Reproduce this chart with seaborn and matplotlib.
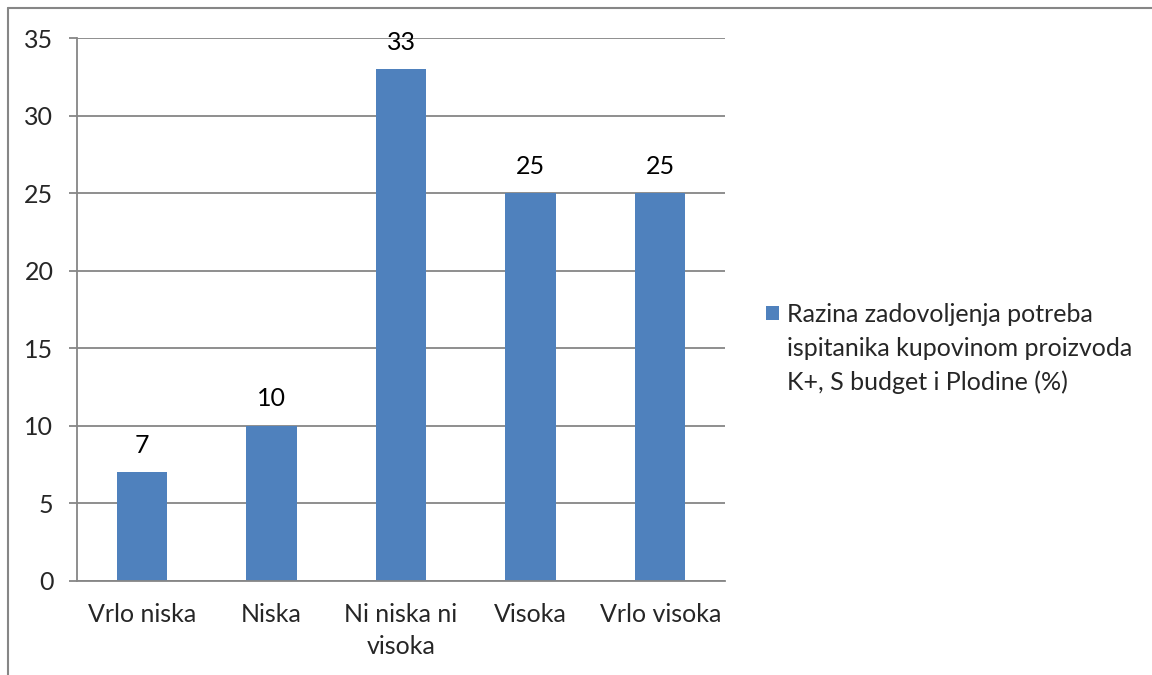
import matplotlib
matplotlib.use("Agg")
import matplotlib.pyplot as plt
import seaborn as sns
import numpy as np
from matplotlib.lines import Line2D
from matplotlib.patches import Patch

categories = ["Vrlo niska", "Niska", "Ni niska ni\nvisoka", "Visoka", "Vrlo visoka"]
values = [7, 10, 33, 25, 25]
series_label = ["Razina zadovoljenja potreba",
                "ispitanika kupovinom proizvoda",
                "K+, S budget i Plodine (%)"]

bar_color = "#4F81BD"
grid_color = "#868686"

sns.set_theme(style="white")
plt.rcParams['font.family'] = ['Lato', 'DejaVu Sans']

fig = plt.figure(figsize=(11.52, 6.75), dpi=100)
ax = fig.add_axes([77 / 1152, 1 - 581 / 675, 648 / 1152, 543 / 675])

sns.barplot(x=categories, y=values, color=bar_color, width=0.39,
            saturation=1, linewidth=0, ax=ax)

ax.set_ylim(0, 35)
ax.set_xlim(-0.5, len(categories) - 0.5)
ax.set_yticks(np.arange(0, 36, 5))
ax.yaxis.grid(True, color=grid_color, linewidth=1.3)
ax.set_axisbelow(True)

for s in ["top", "right"]:
    ax.spines[s].set_visible(False)
for s in ["left", "bottom"]:
    ax.spines[s].set_color(grid_color)
    ax.spines[s].set_linewidth(1.3)

# tick marks between categories
ax.set_xticks(np.arange(-0.5, len(categories), 1), minor=True)
ax.tick_params(axis="x", which="major", length=0, pad=16, labelsize=18)
ax.tick_params(axis="x", which="minor", length=6, width=1.3, color=grid_color, direction="out")
ax.tick_params(axis="y", length=6, width=1.3, color=grid_color, direction="out", labelsize=18, pad=11, left=True)
for lbl in ax.get_xticklabels():
    lbl.set_linespacing(1.45)
ax.set_xlabel("")
ax.set_ylabel("")

for i, v in enumerate(values):
    ax.annotate(str(v), (i, v), xytext=(0, 14), textcoords="offset points",
                ha="center", va="baseline", fontsize=18, color="black")

# legend: marker next to the first line of the wrapped label
handles = [Patch(facecolor=bar_color, edgecolor="none"),
           Patch(facecolor="none", edgecolor="none"),
           Patch(facecolor="none", edgecolor="none")]
leg = fig.legend(handles, series_label, loc="upper left",
                 bbox_to_anchor=(766 / 1152, 1 - 303 / 675), frameon=False,
                 fontsize=18, handlelength=0.5, handleheight=0.5,
                 handletextpad=0.35, borderpad=0, borderaxespad=0,
                 labelspacing=0.42)

# outer chart border (only left and top visible in the crop)
fig.add_artist(Line2D([8 / 1152, 8 / 1152], [0, 1 - 8 / 675], transform=fig.transFigure,
                      color=grid_color, linewidth=1.5))
fig.add_artist(Line2D([8 / 1152, 1], [1 - 8 / 675, 1 - 8 / 675], transform=fig.transFigure,
                      color=grid_color, linewidth=1.5))

fig.savefig("out.png", dpi=100, facecolor="white")
